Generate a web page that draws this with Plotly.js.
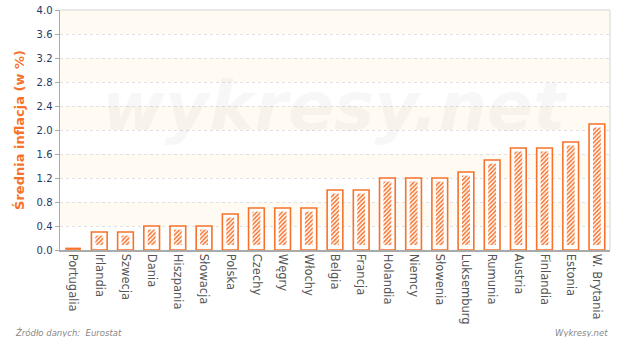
<!DOCTYPE html>
<html>
<head>
<meta charset="utf-8">
<script src="https://cdn.plot.ly/plotly-3.0.1.min.js"></script>
<style>html,body{margin:0;padding:0;background:#fff;}#chart{width:620px;height:337px;}</style>
</head>
<body>
<div id="chart"></div>
<script>
const countries = ["Portugalia","Irlandia","Szwecja","Dania","Hiszpania","Słowacja","Polska","Czechy","Węgry","Włochy","Belgia","Francja","Holandia","Niemcy","Słowenia","Luksemburg","Rumunia","Austria","Finlandia","Estonia","W. Brytania"];
const inflation = [0.0,0.3,0.3,0.4,0.4,0.4,0.6,0.7,0.7,0.7,1.0,1.0,1.2,1.2,1.2,1.3,1.5,1.7,1.7,1.8,2.1];
const yTicks = [0,0.4,0.8,1.2,1.6,2.0,2.4,2.8,3.2,3.6,4.0];

const orange = '#f7722a';
const padTop = 0.06, padBottom = 0.085;
const outerWidth = 0.6;

const outer = {
  type: 'bar', x: countries, y: inflation, width: outerWidth,
  marker: {color: '#ffffff', line: {color: orange, width: 1.6}},
  hoverinfo: 'skip'
};
const inner = {
  type: 'bar', x: countries,
  y: inflation.map(v => v > 0 ? v - padTop - padBottom : null),
  base: inflation.map(v => padBottom),
  width: 0.3,
  marker: {color: '#ffffff', line: {width: 0},
    pattern: {shape: '/', fgcolor: orange, bgcolor: '#ffffff', size: 3, solidity: 0.5}},
  hoverinfo: 'skip'
};

const shapes = [];
for (let i = 0; i + 1 < yTicks.length; i++) {
  if (i % 2 === 1) {
    shapes.push({type: 'rect', xref: 'paper', yref: 'y', x0: 0, x1: 1, y0: yTicks[i], y1: yTicks[i+1],
      fillcolor: '#fffbf3', line: {width: 0}, layer: 'below'});
  }
}
shapes.push({type: 'line', xref: 'paper', yref: 'paper', x0: 0, x1: 1, y0: 1, y1: 1, line: {color: '#e2e2e2', width: 1.5}});
shapes.push({type: 'line', xref: 'paper', yref: 'paper', x0: 1, x1: 1, y0: 0, y1: 1, line: {color: '#e2e2e2', width: 1.5}});
// zero-valued bars are drawn by the reference as a flat orange outline
inflation.forEach((v, i) => {
  if (v === 0) {
    shapes.push({type: 'line', xref: 'x', yref: 'y', ysizemode: 'pixel', yanchor: v,
      x0: i - outerWidth / 2, x1: i + outerWidth / 2, y0: 1.5, y1: 1.5,
      line: {color: orange, width: 1.8}, layer: 'above'});
  }
});

const layout = {
  width: 620, height: 337,
  margin: {l: 60, r: 10, t: 10, b: 87},
  paper_bgcolor: '#ffffff', plot_bgcolor: '#ffffff',
  barmode: 'overlay', showlegend: false,
  font: {family: 'DejaVu Sans, Verdana, sans-serif'},
  xaxis: {
    type: 'category', tickangle: 90, tickfont: {size: 11.5, color: '#555555'},
    showline: true, linecolor: '#aaaaaa', linewidth: 1.5, ticks: '', showgrid: false, zeroline: false
  },
  yaxis: {
    range: [0, 4], tickvals: yTicks, tickformat: '.1f',
    tickfont: {size: 10, color: '#1e3a66'},
    ticks: 'outside', ticklen: 4, tickcolor: '#aaaaaa',
    showline: true, linecolor: '#aaaaaa', linewidth: 1.5,
    showgrid: true, gridcolor: '#e0e0e0', griddash: '3px,3px', gridwidth: 1, zeroline: false,
    title: {text: 'Średnia inflacja (w %)', font: {size: 13, color: orange, family: 'DejaVu Sans, Verdana, sans-serif', weight: 'bold'}, standoff: 9}
  },
  shapes: shapes,
  annotations: [
    {text: 'wykresy.net', xref: 'paper', yref: 'paper', x: 0.5, y: 0.6, showarrow: false,
     font: {size: 68, color: 'rgba(0,0,0,0.03)', family: 'DejaVu Sans, sans-serif', weight: 'bold', style: 'italic'}},
    {text: 'Źródło danych:  Eurostat', xref: 'paper', yref: 'paper', x: -0.085, y: -0.345, xanchor: 'left', yanchor: 'middle', showarrow: false,
     font: {size: 8.5, color: '#888888', style: 'italic'}},
    {text: 'Wykresy.net', xref: 'paper', yref: 'paper', x: 1.0, y: -0.345, xanchor: 'right', yanchor: 'middle', showarrow: false,
     font: {size: 8.5, color: '#888888', style: 'italic'}}
  ]
};

Plotly.newPlot('chart', [outer, inner], layout, {displayModeBar: false, staticPlot: true});
</script>
</body>
</html>
